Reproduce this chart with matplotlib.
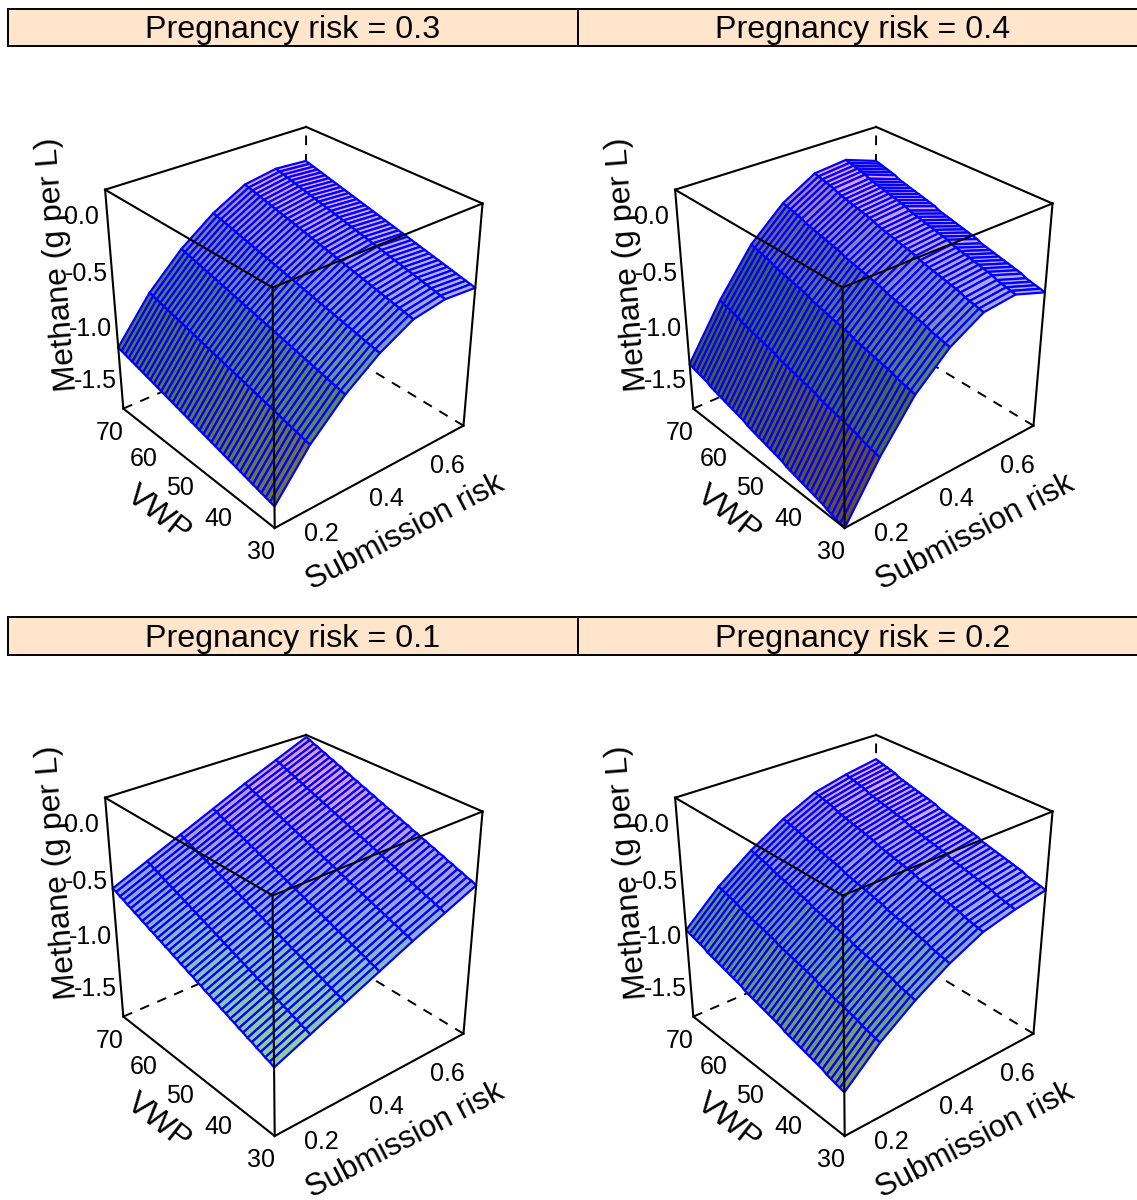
import numpy as np
import matplotlib
matplotlib.use("Agg")
import matplotlib.pyplot as plt
from matplotlib.colors import LinearSegmentedColormap
from matplotlib.patches import Rectangle
from mpl_toolkits.mplot3d import proj3d

plt.rcParams['font.family'] = ['Liberation Sans', 'DejaVu Sans']

# Axis values
sub_risk = [0.1, 0.2, 0.3, 0.4, 0.5, 0.6, 0.7]
vwp = [30, 31, 32, 33, 34, 35, 36, 37, 38, 39, 40, 41, 42, 43, 44, 45, 46, 47, 48, 49, 50,
       51, 52, 53, 54, 55, 56, 57, 58, 59, 60, 61, 62, 63, 64, 65, 66, 67, 68, 69, 70]
sub_ticks = [0.2, 0.4, 0.6]
vwp_ticks = [30, 40, 50, 60, 70]
z_ticks = [0.0, -0.5, -1.0, -1.5]

# Methane, one row per VWP, one column per submission risk
z_preg01 = [
    [-1.13, -1.00, -0.87, -0.74, -0.61, -0.49, -0.37],
    [-1.11, -0.98, -0.85, -0.72, -0.59, -0.47, -0.35],
    [-1.10, -0.97, -0.84, -0.71, -0.58, -0.46, -0.34],
    [-1.08, -0.95, -0.82, -0.69, -0.56, -0.44, -0.32],
    [-1.07, -0.94, -0.81, -0.68, -0.55, -0.43, -0.31],
    [-1.05, -0.92, -0.79, -0.66, -0.53, -0.41, -0.29],
    [-1.04, -0.91, -0.78, -0.65, -0.52, -0.40, -0.28],
    [-1.02, -0.89, -0.76, -0.63, -0.50, -0.38, -0.26],
    [-1.01, -0.88, -0.75, -0.62, -0.49, -0.37, -0.25],
    [-0.99, -0.86, -0.73, -0.60, -0.47, -0.35, -0.23],
    [-0.98, -0.85, -0.72, -0.59, -0.46, -0.34, -0.22],
    [-0.96, -0.83, -0.70, -0.57, -0.44, -0.32, -0.20],
    [-0.95, -0.82, -0.69, -0.56, -0.43, -0.31, -0.19],
    [-0.93, -0.80, -0.67, -0.54, -0.41, -0.29, -0.17],
    [-0.92, -0.79, -0.66, -0.53, -0.40, -0.28, -0.16],
    [-0.90, -0.77, -0.64, -0.51, -0.38, -0.26, -0.14],
    [-0.89, -0.76, -0.63, -0.50, -0.37, -0.25, -0.13],
    [-0.87, -0.74, -0.61, -0.48, -0.35, -0.23, -0.11],
    [-0.86, -0.73, -0.60, -0.47, -0.34, -0.22, -0.10],
    [-0.84, -0.71, -0.58, -0.45, -0.32, -0.20, -0.08],
    [-0.83, -0.70, -0.57, -0.44, -0.31, -0.19, -0.07],
    [-0.81, -0.68, -0.55, -0.42, -0.29, -0.17, -0.05],
    [-0.80, -0.67, -0.54, -0.41, -0.28, -0.16, -0.04],
    [-0.78, -0.65, -0.52, -0.39, -0.26, -0.14, -0.02],
    [-0.77, -0.64, -0.51, -0.38, -0.25, -0.13, -0.01],
    [-0.75, -0.62, -0.49, -0.36, -0.23, -0.11, 0.01],
    [-0.74, -0.61, -0.48, -0.35, -0.22, -0.10, 0.02],
    [-0.72, -0.59, -0.46, -0.33, -0.20, -0.08, 0.04],
    [-0.71, -0.58, -0.45, -0.32, -0.19, -0.07, 0.05],
    [-0.69, -0.56, -0.43, -0.30, -0.17, -0.05, 0.07],
    [-0.68, -0.55, -0.42, -0.29, -0.16, -0.04, 0.08],
    [-0.66, -0.53, -0.40, -0.27, -0.14, -0.02, 0.10],
    [-0.65, -0.52, -0.39, -0.26, -0.13, -0.01, 0.11],
    [-0.63, -0.50, -0.37, -0.24, -0.11, 0.01, 0.13],
    [-0.62, -0.49, -0.36, -0.23, -0.10, 0.02, 0.14],
    [-0.60, -0.47, -0.34, -0.21, -0.08, 0.04, 0.16],
    [-0.59, -0.46, -0.33, -0.20, -0.07, 0.05, 0.17],
    [-0.57, -0.44, -0.31, -0.18, -0.05, 0.07, 0.19],
    [-0.56, -0.43, -0.30, -0.17, -0.04, 0.08, 0.20],
    [-0.54, -0.41, -0.28, -0.15, -0.02, 0.10, 0.22],
    [-0.53, -0.40, -0.27, -0.14, -0.01, 0.11, 0.23],
]
z_preg02 = [
    [-1.35, -1.07, -0.85, -0.67, -0.53, -0.46, -0.41],
    [-1.34, -1.06, -0.84, -0.66, -0.52, -0.45, -0.40],
    [-1.33, -1.05, -0.83, -0.65, -0.51, -0.44, -0.39],
    [-1.32, -1.04, -0.82, -0.64, -0.50, -0.43, -0.38],
    [-1.31, -1.03, -0.81, -0.63, -0.49, -0.42, -0.37],
    [-1.29, -1.01, -0.79, -0.61, -0.47, -0.40, -0.35],
    [-1.28, -1.00, -0.78, -0.60, -0.46, -0.39, -0.34],
    [-1.27, -0.99, -0.77, -0.59, -0.45, -0.38, -0.33],
    [-1.26, -0.98, -0.76, -0.58, -0.44, -0.37, -0.32],
    [-1.25, -0.97, -0.75, -0.57, -0.43, -0.36, -0.31],
    [-1.24, -0.96, -0.74, -0.56, -0.42, -0.35, -0.30],
    [-1.23, -0.95, -0.73, -0.55, -0.41, -0.34, -0.29],
    [-1.22, -0.94, -0.72, -0.54, -0.40, -0.33, -0.28],
    [-1.21, -0.93, -0.71, -0.53, -0.39, -0.32, -0.27],
    [-1.20, -0.92, -0.70, -0.52, -0.38, -0.31, -0.26],
    [-1.18, -0.90, -0.68, -0.50, -0.36, -0.29, -0.24],
    [-1.17, -0.89, -0.67, -0.49, -0.35, -0.28, -0.23],
    [-1.16, -0.88, -0.66, -0.48, -0.34, -0.27, -0.22],
    [-1.15, -0.87, -0.65, -0.47, -0.33, -0.26, -0.21],
    [-1.14, -0.86, -0.64, -0.46, -0.32, -0.25, -0.20],
    [-1.13, -0.85, -0.63, -0.45, -0.31, -0.24, -0.19],
    [-1.12, -0.84, -0.62, -0.44, -0.30, -0.23, -0.18],
    [-1.11, -0.83, -0.61, -0.43, -0.29, -0.22, -0.17],
    [-1.10, -0.82, -0.60, -0.42, -0.28, -0.21, -0.16],
    [-1.09, -0.81, -0.59, -0.41, -0.27, -0.20, -0.15],
    [-1.07, -0.79, -0.57, -0.39, -0.25, -0.18, -0.13],
    [-1.06, -0.78, -0.56, -0.38, -0.24, -0.17, -0.12],
    [-1.05, -0.77, -0.55, -0.37, -0.23, -0.16, -0.11],
    [-1.04, -0.76, -0.54, -0.36, -0.22, -0.15, -0.10],
    [-1.03, -0.75, -0.53, -0.35, -0.21, -0.14, -0.09],
    [-1.02, -0.74, -0.52, -0.34, -0.20, -0.13, -0.08],
    [-1.01, -0.73, -0.51, -0.33, -0.19, -0.12, -0.07],
    [-1.00, -0.72, -0.50, -0.32, -0.18, -0.11, -0.06],
    [-0.99, -0.71, -0.49, -0.31, -0.17, -0.10, -0.05],
    [-0.98, -0.70, -0.48, -0.30, -0.16, -0.09, -0.04],
    [-0.96, -0.68, -0.46, -0.28, -0.14, -0.07, -0.02],
    [-0.95, -0.67, -0.45, -0.27, -0.13, -0.06, -0.01],
    [-0.94, -0.66, -0.44, -0.26, -0.12, -0.05, 0.00],
    [-0.93, -0.65, -0.43, -0.25, -0.11, -0.04, 0.01],
    [-0.92, -0.64, -0.42, -0.24, -0.10, -0.03, 0.02],
    [-0.91, -0.63, -0.41, -0.23, -0.09, -0.02, 0.03],
]
z_preg03 = [
    [-1.55, -1.16, -0.87, -0.65, -0.49, -0.44, -0.46],
    [-1.54, -1.15, -0.86, -0.64, -0.48, -0.43, -0.45],
    [-1.53, -1.14, -0.85, -0.63, -0.47, -0.42, -0.44],
    [-1.52, -1.13, -0.84, -0.62, -0.46, -0.41, -0.43],
    [-1.51, -1.12, -0.83, -0.61, -0.45, -0.40, -0.42],
    [-1.50, -1.11, -0.82, -0.60, -0.44, -0.39, -0.41],
    [-1.49, -1.10, -0.81, -0.59, -0.43, -0.38, -0.40],
    [-1.48, -1.09, -0.80, -0.58, -0.42, -0.37, -0.39],
    [-1.47, -1.08, -0.79, -0.57, -0.41, -0.36, -0.38],
    [-1.46, -1.07, -0.78, -0.56, -0.40, -0.35, -0.37],
    [-1.45, -1.06, -0.77, -0.55, -0.39, -0.34, -0.36],
    [-1.44, -1.05, -0.76, -0.54, -0.38, -0.33, -0.35],
    [-1.43, -1.04, -0.75, -0.53, -0.37, -0.32, -0.34],
    [-1.42, -1.03, -0.74, -0.52, -0.36, -0.31, -0.33],
    [-1.41, -1.02, -0.73, -0.51, -0.35, -0.30, -0.32],
    [-1.40, -1.01, -0.72, -0.50, -0.34, -0.29, -0.31],
    [-1.39, -1.00, -0.71, -0.49, -0.33, -0.28, -0.30],
    [-1.38, -0.99, -0.70, -0.48, -0.32, -0.27, -0.29],
    [-1.37, -0.98, -0.69, -0.47, -0.31, -0.26, -0.28],
    [-1.36, -0.97, -0.68, -0.46, -0.30, -0.25, -0.27],
    [-1.35, -0.96, -0.67, -0.45, -0.29, -0.24, -0.26],
    [-1.34, -0.95, -0.66, -0.44, -0.28, -0.23, -0.25],
    [-1.33, -0.94, -0.65, -0.43, -0.27, -0.22, -0.24],
    [-1.32, -0.93, -0.64, -0.42, -0.26, -0.21, -0.23],
    [-1.31, -0.92, -0.63, -0.41, -0.25, -0.20, -0.22],
    [-1.30, -0.91, -0.62, -0.40, -0.24, -0.19, -0.21],
    [-1.29, -0.90, -0.61, -0.39, -0.23, -0.18, -0.20],
    [-1.28, -0.89, -0.60, -0.38, -0.22, -0.17, -0.19],
    [-1.27, -0.88, -0.59, -0.37, -0.21, -0.16, -0.18],
    [-1.26, -0.87, -0.58, -0.36, -0.20, -0.15, -0.17],
    [-1.25, -0.86, -0.57, -0.35, -0.19, -0.14, -0.16],
    [-1.24, -0.85, -0.56, -0.34, -0.18, -0.13, -0.15],
    [-1.23, -0.84, -0.55, -0.33, -0.17, -0.12, -0.14],
    [-1.22, -0.83, -0.54, -0.32, -0.16, -0.11, -0.13],
    [-1.21, -0.82, -0.53, -0.31, -0.15, -0.10, -0.12],
    [-1.20, -0.81, -0.52, -0.30, -0.14, -0.09, -0.11],
    [-1.19, -0.80, -0.51, -0.29, -0.13, -0.08, -0.10],
    [-1.18, -0.79, -0.50, -0.28, -0.12, -0.07, -0.09],
    [-1.17, -0.78, -0.49, -0.27, -0.11, -0.06, -0.08],
    [-1.16, -0.77, -0.48, -0.26, -0.10, -0.05, -0.07],
    [-1.15, -0.76, -0.47, -0.25, -0.09, -0.04, -0.06],
]
z_preg04 = [
    [-1.75, -1.27, -0.87, -0.60, -0.43, -0.40, -0.50],
    [-1.74, -1.26, -0.86, -0.59, -0.42, -0.39, -0.49],
    [-1.73, -1.25, -0.85, -0.58, -0.41, -0.38, -0.48],
    [-1.72, -1.24, -0.84, -0.57, -0.40, -0.37, -0.47],
    [-1.71, -1.23, -0.83, -0.56, -0.39, -0.36, -0.46],
    [-1.69, -1.21, -0.81, -0.54, -0.37, -0.34, -0.44],
    [-1.68, -1.20, -0.80, -0.53, -0.36, -0.33, -0.43],
    [-1.67, -1.19, -0.79, -0.52, -0.35, -0.32, -0.42],
    [-1.66, -1.18, -0.78, -0.51, -0.34, -0.31, -0.41],
    [-1.65, -1.17, -0.77, -0.50, -0.33, -0.30, -0.40],
    [-1.64, -1.16, -0.76, -0.49, -0.32, -0.29, -0.39],
    [-1.63, -1.15, -0.75, -0.48, -0.31, -0.28, -0.38],
    [-1.62, -1.14, -0.74, -0.47, -0.30, -0.27, -0.37],
    [-1.61, -1.13, -0.73, -0.46, -0.29, -0.26, -0.36],
    [-1.60, -1.12, -0.72, -0.45, -0.28, -0.25, -0.35],
    [-1.58, -1.10, -0.70, -0.43, -0.26, -0.23, -0.33],
    [-1.57, -1.09, -0.69, -0.42, -0.25, -0.22, -0.32],
    [-1.56, -1.08, -0.68, -0.41, -0.24, -0.21, -0.31],
    [-1.55, -1.07, -0.67, -0.40, -0.23, -0.20, -0.30],
    [-1.54, -1.06, -0.66, -0.39, -0.22, -0.19, -0.29],
    [-1.53, -1.05, -0.65, -0.38, -0.21, -0.18, -0.28],
    [-1.52, -1.04, -0.64, -0.37, -0.20, -0.17, -0.27],
    [-1.51, -1.03, -0.63, -0.36, -0.19, -0.16, -0.26],
    [-1.50, -1.02, -0.62, -0.35, -0.18, -0.15, -0.25],
    [-1.49, -1.01, -0.61, -0.34, -0.17, -0.14, -0.24],
    [-1.47, -0.99, -0.59, -0.32, -0.15, -0.12, -0.22],
    [-1.46, -0.98, -0.58, -0.31, -0.14, -0.11, -0.21],
    [-1.45, -0.97, -0.57, -0.30, -0.13, -0.10, -0.20],
    [-1.44, -0.96, -0.56, -0.29, -0.12, -0.09, -0.19],
    [-1.43, -0.95, -0.55, -0.28, -0.11, -0.08, -0.18],
    [-1.42, -0.94, -0.54, -0.27, -0.10, -0.07, -0.17],
    [-1.41, -0.93, -0.53, -0.26, -0.09, -0.06, -0.16],
    [-1.40, -0.92, -0.52, -0.25, -0.08, -0.05, -0.15],
    [-1.39, -0.91, -0.51, -0.24, -0.07, -0.04, -0.14],
    [-1.38, -0.90, -0.50, -0.23, -0.06, -0.03, -0.13],
    [-1.36, -0.88, -0.48, -0.21, -0.04, -0.01, -0.11],
    [-1.35, -0.87, -0.47, -0.20, -0.03, 0.00, -0.10],
    [-1.34, -0.86, -0.46, -0.19, -0.02, 0.01, -0.09],
    [-1.33, -0.85, -0.45, -0.18, -0.01, 0.02, -0.08],
    [-1.32, -0.84, -0.44, -0.17, 0.00, 0.03, -0.07],
    [-1.31, -0.83, -0.43, -0.16, 0.01, 0.04, -0.06],
]

titles = ['Pregnancy risk = 0.3', 'Pregnancy risk = 0.4', 'Pregnancy risk = 0.1', 'Pregnancy risk = 0.2']
surfaces = [z_preg03, z_preg04, z_preg01, z_preg02]

# Axis ranges of the box
sub_lim = (0.1, 0.7)
vwp_lim = (30, 70)
z_lim = (-1.75, 0.25)

# Colours for the drape, low to high
drape = LinearSegmentedColormap.from_list('drape', [
    (0.00, '#ffc070'), (0.13, '#c8f080'), (0.28, '#a0e8a0'), (0.42, '#90dcc8'),
    (0.58, '#a0b8f0'), (0.72, '#bcaaf0'), (0.86, '#f0a8f0'), (1.00, '#f8a0b8')])

W = 1137
H = 1200
fig = plt.figure(figsize=(W / 100, H / 100), dpi=100)

# Pixel layer for the strips
bg = fig.add_axes([0, 0, 1, 1])
bg.set_xlim(0, W)
bg.set_ylim(H, 0)
bg.axis('off')

strip_x = [8, 578, 8, 578]
strip_y = [9, 9, 617, 617]
strip_h = [37, 37, 38, 38]
centre_x = [291.6, 861.6, 291.6, 861.6]
centre_y = [312.5, 312.5, 920.5, 920.5]

AX_SIZE = 427
ELEV = 30
AZIM = -130
FOCAL = 0.53


def label3d(ax, x, y, z, text, dx, dy, size, rot=0):
    # dx, dy in pixels, dy down
    px, py, _ = proj3d.proj_transform(x, y, z, ax.get_proj())
    ax.annotate(text, xy=(px, py), xytext=(dx * 0.72, -dy * 0.72), textcoords='offset points',
                ha='center', va='center', fontsize=size, rotation=rot, rotation_mode='anchor',
                annotation_clip=False)


for i in range(4):
    bg.add_patch(Rectangle((strip_x[i], strip_y[i]), 570, strip_h[i], facecolor='#ffe5cc',
                           edgecolor='black', linewidth=1.4))
    bg.text(strip_x[i] + 285, strip_y[i] + strip_h[i] / 2 + 2.5, titles[i], ha='center', va='center', fontsize=23.2)

    left = (centre_x[i] - 0.5135 * AX_SIZE) / W
    bottom = (H - centre_y[i] - 0.5135 * AX_SIZE) / H
    ax = fig.add_axes([left, bottom, AX_SIZE / W, AX_SIZE / H], projection='3d', computed_zorder=False)
    ax.patch.set_alpha(0)
    ax.set_axis_off()
    ax.set_xlim(sub_lim[0], sub_lim[1], view_margin=0)
    ax.set_ylim(vwp_lim[0], vwp_lim[1], view_margin=0)
    ax.set_zlim(z_lim[0], z_lim[1], view_margin=0)
    ax.set_box_aspect((1, 1, 1))
    ax.view_init(elev=ELEV, azim=AZIM)
    ax.set_proj_type('persp', focal_length=FOCAL)

    x0, x1 = sub_lim
    y0, y1 = vwp_lim
    z0, z1 = z_lim

    # Hidden edges first, the surface covers them
    for xs, ys, zs in [([x1, x1], [y1, y1], [z0, z1]), ([x0, x1], [y1, y1], [z0, z0]), ([x1, x1], [y0, y1], [z0, z0])]:
        ax.plot(xs, ys, zs, color='black', lw=1.4, dashes=(5, 4.5), zorder=1)

    X, Y = np.meshgrid(sub_risk, vwp)
    Z = np.array(surfaces[i])
    slope = np.gradient(Z, axis=1)
    shade = 1 / (1 + (slope / 0.4) ** 2)
    colours = drape((Z - z0) / (z1 - z0))
    colours[..., :3] = colours[..., :3] * shade[..., None]
    ax.plot_surface(X, Y, Z, facecolors=colours, rstride=1, cstride=1, shade=False,
                    edgecolor='#0000ff', linewidth=1.6, antialiased=True, zorder=2)

    # Visible box edges on top
    solid = [([x0, x1], [y0, y0], [z0, z0]), ([x0, x0], [y0, y1], [z0, z0]),
             ([x0, x0], [y0, y0], [z0, z1]), ([x1, x1], [y0, y0], [z0, z1]), ([x0, x0], [y1, y1], [z0, z1]),
             ([x0, x1], [y0, y0], [z1, z1]), ([x0, x1], [y1, y1], [z1, z1]),
             ([x0, x0], [y0, y1], [z1, z1]), ([x1, x1], [y0, y1], [z1, z1])]
    for xs, ys, zs in solid:
        ax.plot(xs, ys, zs, color='black', lw=1.5, zorder=3)

    for s in sub_ticks:
        label3d(ax, s, y0, z0, '%.1f' % s, 12, 25, 18)
    for v in vwp_ticks:
        label3d(ax, x0, v, z0, '%d' % v, -14, 24, 18)
    for t in z_ticks:
        label3d(ax, x0, y1, t, '%.1f' % t, -26, -3, 18)

    label3d(ax, 0.4, y0, z0, 'Submission risk', 31, 59, 22.5, rot=27.5)
    label3d(ax, x0, 50, z0, 'VWP', -35, 50, 23, rot=-38)
    label3d(ax, x0, y1, -0.75, 'Methane (g per L)', -57, -40, 23, rot=94.5)

fig.savefig('out.png', dpi=100)
